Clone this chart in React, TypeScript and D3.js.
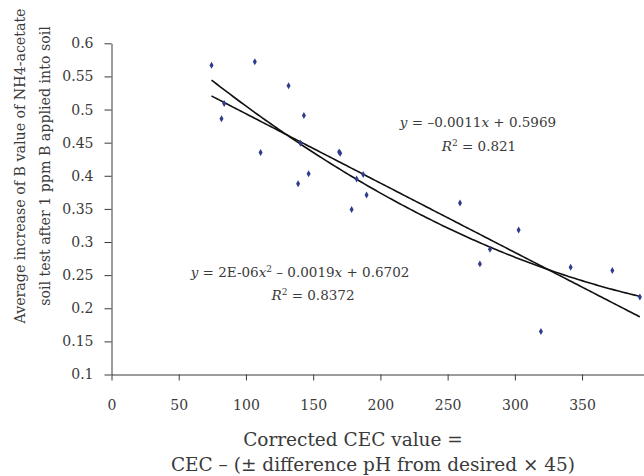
import { useEffect, useRef } from "react"
import * as d3 from "d3"

// corrected CEC value (x) and average increase of B value (y)
const cecValues = [74.4, 106.6, 83.8, 81.8, 110.9, 131.7, 143.1, 140.6, 169.3, 170.1, 146.6, 138.8, 182.3, 187.2, 189.7, 178.6, 259.2, 302.8, 281.5, 274.0, 341.5, 372.5, 393.0, 319.4]
const boronIncrease = [0.567, 0.572, 0.509, 0.486, 0.435, 0.536, 0.491, 0.449, 0.436, 0.434, 0.403, 0.388, 0.395, 0.402, 0.371, 0.349, 0.359, 0.318, 0.289, 0.267, 0.262, 0.257, 0.217, 0.165]

const xTickValues = [0, 50, 100, 150, 200, 250, 300, 350]
const yTickValues = [0.1, 0.15, 0.2, 0.25, 0.3, 0.35, 0.4, 0.45, 0.5, 0.55, 0.6]

const yTitleLines = ["Average increase of B value of NH4-acetate", "soil test  after 1 ppm B applied into soil"]
const xTitleLines = ["Corrected CEC value =", "CEC \u2013 (\u00b1 difference pH from desired \u00d7 45)"]

const W = 644
const H = 476
const FONT = "'DejaVu Serif', serif"
const INK = "#3a3a3a"

// least squares fits, computed from the points
function fitLinear(xs: number[], ys: number[]) {
  const mx = d3.mean(xs)!, my = d3.mean(ys)!
  let sxy = 0, sxx = 0
  xs.forEach((x, i) => { sxy += (x - mx) * (ys[i] - my); sxx += (x - mx) * (x - mx) })
  const b = sxy / sxx
  return (x: number) => my + b * (x - mx)
}

function fitQuadratic(xs: number[], ys: number[]) {
  const s = (p: number) => d3.sum(xs, x => Math.pow(x, p))
  const sy = (p: number) => d3.sum(xs, (x, i) => Math.pow(x, p) * ys[i])
  const m = [
    [s(0), s(1), s(2), sy(0)],
    [s(1), s(2), s(3), sy(1)],
    [s(2), s(3), s(4), sy(2)],
  ]
  // gaussian elimination
  for (let i = 0; i < 3; i++) {
    for (let k = i + 1; k < 3; k++) {
      const f = m[k][i] / m[i][i]
      for (let j = i; j < 4; j++) m[k][j] -= f * m[i][j]
    }
  }
  const c = [0, 0, 0]
  for (let i = 2; i >= 0; i--) {
    let v = m[i][3]
    for (let j = i + 1; j < 3; j++) v -= m[i][j] * c[j]
    c[i] = v / m[i][i]
  }
  return (x: number) => c[0] + c[1] * x + c[2] * x * x
}

export default function App() {
  const ref = useRef<SVGSVGElement>(null)

  useEffect(() => {
    const svg = d3.select(ref.current)
    svg.selectAll("*").remove()

    const x = d3.scaleLinear().domain([0, 400]).range([111.5, 649.3])
    const y = d3.scaleLinear().domain([0.1, 0.6]).range([374.5, 43.3])

    // axes
    const xAxis = svg.append("g")
      .attr("transform", `translate(0,${y(0.1)})`)
      .call(d3.axisBottom(x).tickValues(xTickValues).tickSize(6).tickSizeOuter(0).tickPadding(20).tickFormat(d => String(d)))
    const yAxis = svg.append("g")
      .attr("transform", `translate(${x(0)},0)`)
      .call(d3.axisLeft(y).tickValues(yTickValues).tickSize(7).tickSizeOuter(0).tickPadding(11).tickFormat(d => String(d)))

    ;[xAxis, yAxis].forEach(g => {
      g.select(".domain").attr("stroke", INK)
      g.selectAll(".tick line").attr("stroke", INK)
      g.selectAll(".tick text").attr("fill", INK).style("font-family", FONT).style("font-size", "14px")
    })

    // trendlines
    const xs = d3.range(d3.min(cecValues)!, d3.max(cecValues)!, 2).concat([d3.max(cecValues)!])
    const lin = fitLinear(cecValues, boronIncrease)
    const quad = fitQuadratic(cecValues, boronIncrease)
    const line = d3.line<number>().x(d => x(d))
    svg.append("path")
      .attr("d", line.y(d => y(lin(d)))(xs))
      .attr("fill", "none").attr("stroke", "#111").attr("stroke-width", 1.6)
    svg.append("path")
      .attr("d", line.y(d => y(quad(d)))(xs))
      .attr("fill", "none").attr("stroke", "#111").attr("stroke-width", 1.6)

    // points
    svg.append("g").selectAll("path")
      .data(cecValues)
      .join("path")
      .attr("transform", (d, i) => `translate(${x(d)},${y(boronIncrease[i])})`)
      .attr("d", d3.symbol(d3.symbolDiamond, 14))
      .attr("fill", "#2d3c8e")

    // equation labels
    const eq = (cx: number, cy: number) => svg.append("text")
      .attr("x", cx).attr("y", cy).attr("text-anchor", "middle")
      .style("font-family", FONT).style("font-size", "13.5px").attr("fill", INK)

    const e1 = eq(478, 127)
    e1.append("tspan").style("font-style", "italic").text("y")
    e1.append("tspan").text(" = \u20130.0011")
    e1.append("tspan").style("font-style", "italic").text("x")
    e1.append("tspan").text(" + 0.5969")
    const r1 = eq(479, 151)
    r1.append("tspan").style("font-style", "italic").text("R")
    r1.append("tspan").attr("dy", -5).style("font-size", "9px").text("2")
    r1.append("tspan").attr("dy", 5).text(" = 0.821")

    const e2 = eq(300, 277)
    e2.append("tspan").style("font-style", "italic").text("y")
    e2.append("tspan").text(" = 2E-06")
    e2.append("tspan").style("font-style", "italic").text("x")
    e2.append("tspan").attr("dy", -5).style("font-size", "9px").text("2")
    e2.append("tspan").attr("dy", 5).text(" \u2013 0.0019")
    e2.append("tspan").style("font-style", "italic").text("x")
    e2.append("tspan").text(" + 0.6702")
    const r2 = eq(313, 300)
    r2.append("tspan").style("font-style", "italic").text("R")
    r2.append("tspan").attr("dy", -5).style("font-size", "9px").text("2")
    r2.append("tspan").attr("dy", 5).text(" = 0.8372")

    // axis titles
    const yTitle = svg.append("text")
      .attr("transform", "translate(25,166) rotate(-90)")
      .attr("text-anchor", "middle")
      .style("font-family", FONT).style("font-size", "14.2px").attr("fill", INK)
    yTitleLines.forEach((t, i) => {
      yTitle.append("tspan").attr("x", 0).attr("y", i * 25).text(t)
    })

    xTitleLines.forEach((t, i) => {
      svg.append("text")
        .attr("x", i === 0 ? 353 : 373).attr("y", 446 + i * 25)
        .attr("text-anchor", "middle")
        .style("font-family", FONT).style("font-size", "18.5px").attr("fill", INK)
        .text(t)
    })
  }, [])

  return (
    <svg ref={ref} width={W} height={H} style={{ position: "absolute", left: 0, top: 0, background: "#fff" }} />
  )
}
